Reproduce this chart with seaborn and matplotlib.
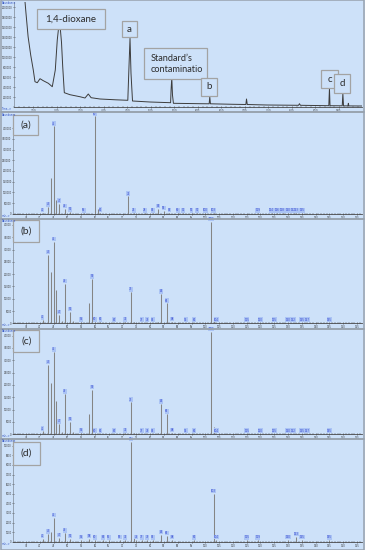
import numpy as np
import pandas as pd
import seaborn as sns
import matplotlib.pyplot as plt
from matplotlib.patches import Rectangle
from matplotlib.ticker import MultipleLocator, FixedLocator

# ---- chromatogram (TIC) ----
chrom_time = [2.28, 2.345, 2.39, 2.445, 2.50, 2.536, 2.585, 2.643, 2.713, 2.82, 2.904,
              2.968, 3.01, 3.035, 3.053, 3.075, 3.10, 3.126, 3.16, 3.28, 3.49, 3.60, 3.67,
              3.73, 3.92, 4.25, 4.51, 4.535, 4.557, 4.578, 4.61, 4.98, 5.42, 5.43, 5.445,
              5.46, 5.48, 6.045, 6.24, 6.253, 6.267, 6.755, 7.02, 7.034, 7.05, 7.466, 8.14,
              8.16, 8.18, 8.784, 8.798, 8.81, 9.07, 9.083, 9.097, 9.19, 9.20, 9.21, 9.487]
chrom_abund = [2600000, 1880000, 1412000, 1046000, 746000, 512000, 492000, 572000, 532000,
               480000, 412000, 746000, 1346000, 1560000, 1600000, 1570000, 1300000, 812000,
               292000, 252000, 212000, 186000, 266000, 192000, 166000, 150000, 140000,
               812000, 1380000, 680000, 126000, 106000, 92000, 346000, 592000, 246000,
               80000, 72000, 70000, 212000, 70000, 60000, 56000, 166000, 56000, 46000,
               40000, 72000, 40000, 32000, 380000, 32000, 30000, 280000, 30000, 28000,
               80000, 28000, 26000]
time_ticks = [2.5, 3.0, 3.5, 4.0, 4.5, 5.0, 5.5, 6.0, 6.5, 7.0, 7.5, 8.0, 8.5, 9.0]

# ---- mass spectra ----
a_mz = [41, 43, 44, 45, 46, 47, 49, 51, 56, 60, 61, 62, 72, 74, 78, 81, 83, 85, 87, 90,
        92, 95, 97, 100, 103, 119, 124, 126, 128, 130, 132, 133, 135]
a_int = [4000, 31000, 168000, 408000, 62000, 47000, 23000, 7500, 3000, 455000, 23000, 5000,
         81000, 3000, 2500, 2500, 23000, 14000, 4000, 2000, 2000, 2000, 2000, 2000, 2000,
         2000, 2000, 2000, 2000, 2000, 2000, 2000, 2000]
a_nolab = [44, 46, 61]

b_mz = [41, 43, 44, 45, 46, 47, 48, 49, 51, 52, 55, 58, 59, 60, 62, 67, 71, 73, 74, 77, 79,
        81, 83, 84, 86, 88, 93, 96, 102, 103, 104, 115, 120, 125, 130, 132, 135, 137, 145]
b_int = [1300, 27800, 20700, 33200, 13500, 3400, 1100, 16000, 4700, 1000, 400, 8100, 17900,
         400, 400, 300, 400, 12600, 500, 300, 300, 300, 700, 11900, 8100, 600, 300, 300,
         41300, 2700, 300, 300, 300, 300, 300, 300, 300, 300, 300]
b_nolab = [44, 46, 48, 52, 58, 74, 83, 103]

c_mz = b_mz
c_int = [1200, 28200, 20700, 33300, 13700, 4100, 900, 16300, 5100, 800, 400, 8400, 18100,
         300, 300, 300, 400, 12900, 500, 300, 300, 300, 600, 12200, 8100, 600, 300, 300,
         41500, 3000, 300, 300, 300, 300, 300, 300, 300, 300, 300]
c_nolab = b_nolab

d_mz = [41, 43, 44, 45, 47, 49, 51, 55, 58, 60, 63, 65, 69, 71, 73, 74, 75, 77, 79, 81, 84,
        86, 88, 96, 103, 104, 115, 119, 130, 133, 135, 145]
d_int = [300, 800, 1000, 2500, 400, 900, 300, 200, 300, 150, 150, 150, 200, 150, 10400, 500,
         200, 150, 150, 150, 700, 600, 200, 150, 5000, 200, 150, 150, 200, 500, 200, 150]
d_nolab = [44, 74]

W, H = 365, 550
BG = '#cde1f9'
FRAME = '#98a2ae'

sns.set_style('ticks')
plt.rcParams['font.family'] = ['DejaVu Sans']


def rect(x0, y0, x1, y1):
    return [x0 / W, 1 - y1 / H, (x1 - x0) / W, (y1 - y0) / H]


def box_text(fig, x0, y0, x1, y1, text, size=7, tx=None, ha='center'):
    fig.add_artist(Rectangle((x0 / W, 1 - y1 / H), (x1 - x0) / W, (y1 - y0) / H,
                             transform=fig.transFigure, fc=BG, ec='#a3a3a3', lw=0.9))
    if tx is None:
        tx = (x0 + x1) / 2
    fig.text(tx / W, 1 - (y0 + y1) / 2 / H, text, ha=ha, va='center', fontsize=size,
             family='Lato', color='#2b2b2b', linespacing=1.35)


def style_axis(ax):
    ax.set_facecolor(BG)
    for s in ['top', 'right']:
        ax.spines[s].set_visible(False)
    ax.spines['left'].set_color('#7d8794')
    ax.spines['bottom'].set_color('#4a4a4a')
    ax.spines['left'].set_linewidth(0.5)
    ax.spines['bottom'].set_linewidth(0.6)
    ax.tick_params(which='major', labelsize=1.8, length=1.6, width=0.4, pad=0.5,
                   colors='#3a3a3a', direction='inout')
    ax.tick_params(which='minor', length=1.0, width=0.3, colors='#3a3a3a', direction='inout')
    ax.set_xlabel('')
    ax.set_ylabel('')


fig = plt.figure(figsize=(W / 100, H / 100), dpi=100)
fig.patch.set_facecolor(BG)

# panel frames
for y0, y1 in [(0.5, 112), (112, 218.5), (218.5, 329), (329, 438.5), (438.5, 549.5)]:
    fig.add_artist(Rectangle((0.5 / W, 1 - y1 / H), 363 / W, (y1 - y0) / H,
                             transform=fig.transFigure, fc='none', ec=FRAME, lw=1.1))

# ---- chromatogram ----
ax0 = fig.add_axes(rect(14, 2, 362, 107.3))
tic = pd.DataFrame({'time': chrom_time, 'abundance': chrom_abund})
sns.lineplot(data=tic, x='time', y='abundance', ax=ax0, color='#3c3c3c', lw=0.7,
             sort=False, estimator=None)
ax0.set_xlim(2.09, 9.49)
ax0.set_ylim(0, 2106000)
ax0.xaxis.set_major_locator(FixedLocator(time_ticks))
ax0.xaxis.set_minor_locator(MultipleLocator(0.1))
ax0.set_xticklabels(['%.2f' % t for t in time_ticks])
ax0.yaxis.set_major_locator(FixedLocator(np.arange(200000, 2000001, 200000)))
ax0.set_yticklabels([str(v) for v in range(200000, 2000001, 200000)])
style_axis(ax0)
fig.text(1.5 / W, 1 - 3.5 / H, 'Abundance', fontsize=1.8, color='#3050c0', va='center')
fig.text(1.5 / W, 1 - 109.5 / H, 'Time-->', fontsize=1.8, color='#3050c0', va='center')

box_text(fig, 36.7, 9.3, 105, 29.3, '1,4-dioxane', size=7)
box_text(fig, 122.3, 20.7, 136.7, 37.3, 'a', size=7)
box_text(fig, 144.3, 48.3, 207.3, 79.3, 'Standard\u2019s\ncontaminatio', size=6.6,
         tx=150.5, ha='left')
box_text(fig, 201, 77.7, 217.3, 96, 'b', size=7)
box_text(fig, 321, 70, 338.3, 88.3, 'c', size=7)
box_text(fig, 334.3, 74.3, 350, 93.3, 'd', size=7)

# ---- spectra ----
spectra = [
    ('(a)', a_mz, a_int, a_nolab, 114, 213.7, 466000, 50000, 400000, (13.3, 115, 37.7, 135)),
    ('(b)', b_mz, b_int, b_nolab, 220.5, 323.3, 41800, 5000, 40000, (13.3, 220, 39.3, 241.7)),
    ('(c)', c_mz, c_int, c_nolab, 330, 434.3, 42300, 5000, 40000, (13.3, 330, 39.3, 351.7)),
    ('(d)', d_mz, d_int, d_nolab, 440, 541.7, 10600, 1000, 10000, (13.3, 441.7, 40, 465)),
]

for name, mz, inten, nolab, ytop, ybot, ymax, ystep, ylast, lbox in spectra:
    ax = fig.add_axes(rect(13.3, ytop, 362, ybot))
    spec = pd.DataFrame({'mz': mz, 'abundance': inten})
    ax.vlines(spec['mz'], 0, spec['abundance'], color='#858585', lw=0.75)
    for m, v in zip(spec['mz'], spec['abundance']):
        if m in nolab:
            continue
        ax.annotate(str(m), (m, v), xytext=(0, 0.6), textcoords='offset points',
                    ha='center', va='bottom', fontsize=1.9, color='#3446d0',
                    bbox=dict(boxstyle='square,pad=0.12', fc='#abc4f4', ec='none'),
                    annotation_clip=False)
    ax.set_xlim(30.4, 156.8)
    ax.set_ylim(0, ymax)
    ax.xaxis.set_minor_locator(MultipleLocator(1))
    xt = list(range(35, 156, 5))
    ax.xaxis.set_major_locator(FixedLocator(xt))
    ax.set_xticklabels([str(t) for t in xt])
    yt = list(range(0, ylast + 1, ystep))
    ax.yaxis.set_major_locator(FixedLocator(yt))
    ax.set_yticklabels([str(t) for t in yt])
    style_axis(ax)
    fig.text(1.5 / W, 1 - (ytop + 0.5) / H, 'Abundance', fontsize=1.8, color='#3050c0',
             va='center')
    fig.text(1.5 / W, 1 - (ybot + 2) / H, 'm/z-->', fontsize=1.8, color='#3050c0',
             va='center')
    box_text(fig, *lbox, name, size=7.5)

fig.savefig('out.png', dpi=100, facecolor=BG)
